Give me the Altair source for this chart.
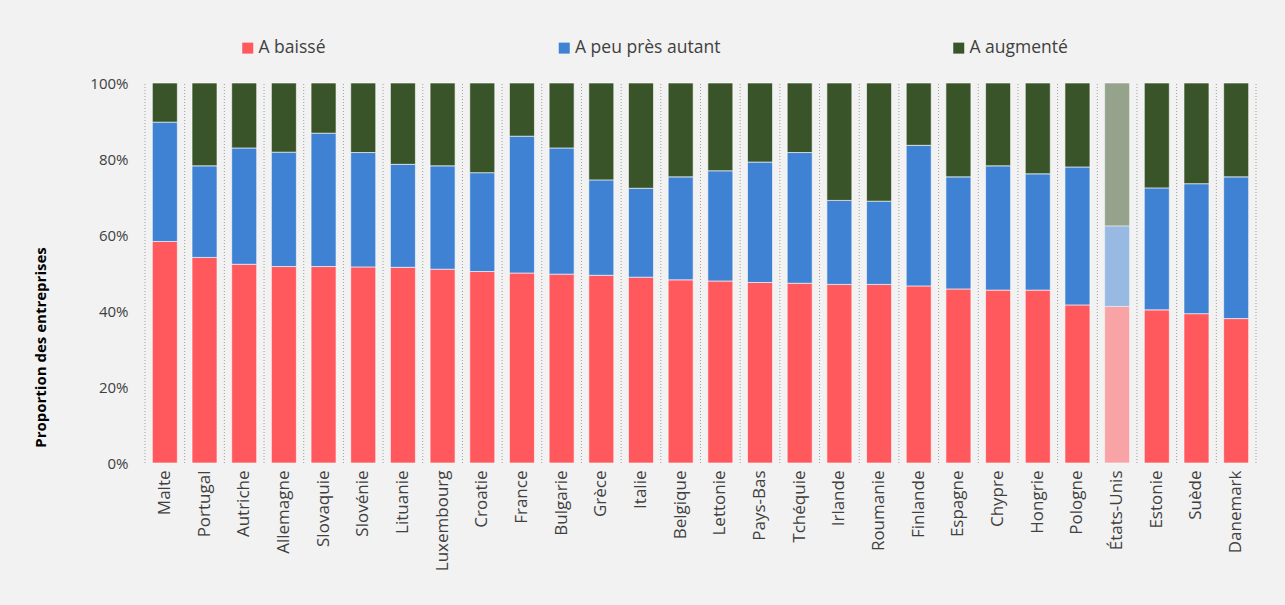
import altair as alt
import pandas as pd

countries = ["Malte", "Portugal", "Autriche", "Allemagne", "Slovaquie", "Slovénie",
             "Lituanie", "Luxembourg", "Croatie", "France", "Bulgarie", "Grèce",
             "Italie", "Belgique", "Lettonie", "Pays-Bas", "Tchéquie", "Irlande",
             "Roumanie", "Finlande", "Espagne", "Chypre", "Hongrie", "Pologne",
             "États-Unis", "Estonie", "Suède", "Danemark"]
a_baisse = [58.3, 54.1, 52.3, 51.7, 51.7, 51.6, 51.5, 51.0, 50.4, 50.0, 49.7, 49.4,
            48.9, 48.2, 47.9, 47.5, 47.3, 47.0, 47.0, 46.6, 45.8, 45.5, 45.5, 41.6,
            41.2, 40.3, 39.3, 38.0]
a_peu_pres = [31.4, 24.1, 30.6, 30.1, 35.1, 30.1, 27.1, 27.2, 26.0, 36.0, 33.2, 25.1,
              23.4, 27.1, 29.0, 31.7, 34.4, 22.1, 21.9, 37.0, 29.5, 32.7, 30.6, 36.3,
              21.2, 32.1, 34.2, 37.3]
a_augmente = [10.3, 21.8, 17.1, 18.2, 13.2, 18.3, 21.4, 21.8, 23.6, 14.0, 17.1, 25.5,
              27.7, 24.7, 23.1, 20.8, 18.3, 30.9, 31.1, 16.4, 24.7, 21.8, 23.9, 22.1,
              37.6, 27.6, 26.5, 24.7]
series = ["A baissé", "A peu près autant", "A augmenté"]
colors = ["#FF585D", "#3F81D3", "#3A5429"]
highlight = "États-Unis"
y_ticks = [0, 20, 40, 60, 80, 100]

rows = []
for i, c in enumerate(countries):
    for k, (s, vals) in enumerate(zip(series, [a_baisse, a_peu_pres, a_augmente])):
        rows.append({"pays": c, "serie": s, "ordre": k, "valeur": vals[i]})
df = pd.DataFrame(rows)
grid_df = pd.DataFrame({"pays": countries})

x_axis = alt.Axis(title=None, labelAngle=270, labelPadding=7, ticks=False, domain=False,
                  grid=False, labelFontSize=17, labelColor="#404040")
x_scale = alt.Scale(paddingInner=0, paddingOuter=0)

bars = alt.Chart(df).mark_bar(
    width=alt.RelativeBandSize(0.63), stroke="white", strokeWidth=1, strokeOpacity=0.6
).encode(
    x=alt.X("pays:N", sort=countries, scale=x_scale, axis=x_axis),
    y=alt.Y("valeur:Q", stack="zero", scale=alt.Scale(domain=[0, 100]),
            axis=alt.Axis(values=y_ticks, labelExpr="datum.value + '%'", grid=False,
                          ticks=False, domain=False, labelPadding=17, labelFontSize=15,
                          labelColor="#404040", title="Proportion des entreprises",
                          titleFontSize=15, titleFontWeight="bold", titleColor="#000000",
                          titleAngle=270, titleX=-105, titleY=264, titleAlign="center",
                          titleBaseline="middle")),
    color=alt.Color("serie:N", scale=alt.Scale(domain=series, range=colors),
                    legend=alt.Legend(orient="none", legendX=94, legendY=-44,
                                      direction="horizontal", title=None,
                                      columnPadding=229.5, symbolType="square",
                                      symbolSize=121, labelFontSize=17.5, labelOffset=2,
                                      symbolStrokeWidth=0, labelColor="#404040")),
    order=alt.Order("ordre:Q"),
    opacity=alt.condition(alt.datum.pays == highlight, alt.value(0.5), alt.value(1.0)),
)

grid_rules = alt.Chart(grid_df).mark_rule(
    strokeDash=[1, 2], color="#9E9E9E", strokeWidth=1
).encode(
    x=alt.X("pays:N", sort=countries, scale=x_scale, axis=x_axis, bandPosition=0),
    y=alt.datum(0),
    y2=alt.datum(100),
)

grid_end = alt.Chart(grid_df).transform_filter(
    alt.datum.pays == countries[-1]
).mark_rule(strokeDash=[1, 2], color="#9E9E9E", strokeWidth=1).encode(
    x=alt.X("pays:N", sort=countries, scale=x_scale, axis=x_axis, bandPosition=1),
    y=alt.datum(0),
    y2=alt.datum(100),
)

chart = alt.layer(bars, grid_rules, grid_end).properties(
    width=1111, height=380,
    autosize=alt.AutoSizeParams(type="none"),
    padding={"left": 145, "top": 83, "right": 29, "bottom": 142},
).configure(
    background="#F2F2F2", font="Open Sans"
).configure_view(stroke=None)

chart.save("out.html", embed_options={"renderer": "svg", "actions": False})
